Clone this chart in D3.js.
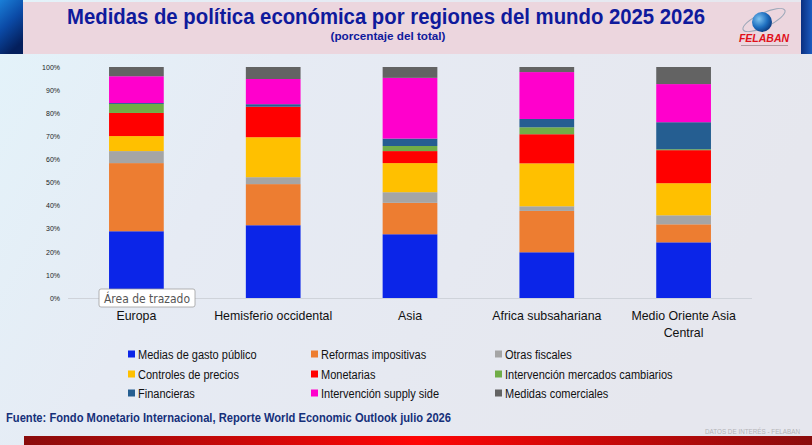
<!DOCTYPE html>
<html><head><meta charset="utf-8">
<script src="https://cdn.jsdelivr.net/npm/d3@7"></script>
<style>
html,body{margin:0;padding:0;overflow:hidden;background:#e6e9f0;}
svg{display:block;}
</style></head>
<body>
<svg id="c" width="812" height="445"></svg>
<script>
const categories = ["Europa", "Hemisferio occidental", "Asia", "Africa subsahariana", "Medio Oriente Asia Central"];
const categoryLines = [["Europa"], ["Hemisferio occidental"], ["Asia"], ["Africa subsahariana"], ["Medio Oriente Asia", "Central"]];
const seriesNames = ["Medias de gasto público", "Reformas impositivas", "Otras fiscales", "Controles de precios", "Monetarias", "Intervención mercados cambiarios", "Financieras", "Intervención supply side", "Medidas comerciales"];
const seriesColors = ["#0b25e8", "#ed7d31", "#a5a5a5", "#ffc000", "#ff0000", "#70ad47", "#255e91", "#ff00cc", "#636363"];
// values per series, in order of categories (percent of total)
const gastoPublico   = [28.9, 31.5, 27.6, 19.8, 24.1];
const reformasImp    = [29.5, 17.8, 13.6, 17.9, 7.8];
const otrasFiscales  = [5.2, 3.0, 4.6, 2.0, 3.9];
const controlPrecios = [6.5, 17.3, 12.6, 18.6, 13.9];
const monetarias     = [10.0, 13.2, 5.2, 12.6, 14.3];
const intervCambio   = [3.9, 0.0, 2.2, 3.0, 0.4];
const financieras    = [0.4, 1.1, 3.2, 3.6, 11.7];
const supplySide     = [11.6, 10.9, 26.3, 20.3, 16.5];
const comerciales    = [4.0, 5.2, 4.7, 2.2, 7.4];
const seriesValues = [gastoPublico, reformasImp, otrasFiscales, controlPrecios, monetarias, intervCambio, financieras, supplySide, comerciales];
const yTicks = [0, 10, 20, 30, 40, 50, 60, 70, 80, 90, 100];

const FONT = "'Liberation Sans',Arial,sans-serif";
function squeeze(sel, f) {
  sel.each(function() {
    const len = this.getComputedTextLength();
    d3.select(this).attr("textLength", len * f).attr("lengthAdjust", "spacingAndGlyphs");
  });
  return sel;
}

const svg = d3.select("#c");
const defs = svg.append("defs");

// background
const bg = defs.append("linearGradient").attr("id","bg").attr("x1","0").attr("y1","0").attr("x2","1").attr("y2","0.3");
bg.append("stop").attr("offset","0").attr("stop-color","#e3f3fa");
bg.append("stop").attr("offset","0.35").attr("stop-color","#e6ebf4");
bg.append("stop").attr("offset","1").attr("stop-color","#e6e7ee");
svg.append("rect").attr("width",812).attr("height",445).attr("fill","url(#bg)");

// header
svg.append("rect").attr("x",23).attr("y",2).attr("width",778).attr("height",52).attr("fill","#ecd6de");
const lb = defs.append("linearGradient").attr("id","lb").attr("x1","0").attr("y1","0").attr("x2","0.4").attr("y2","1");
lb.append("stop").attr("offset","0").attr("stop-color","#1a7fd8");
lb.append("stop").attr("offset","0.5").attr("stop-color","#0b4aa6");
lb.append("stop").attr("offset","1").attr("stop-color","#041f5c");
svg.append("rect").attr("x",0).attr("y",0).attr("width",23).attr("height",54).attr("fill","url(#lb)");
const rb = defs.append("linearGradient").attr("id","rb").attr("x1","0").attr("y1","0").attr("x2","1").attr("y2","0");
rb.append("stop").attr("offset","0").attr("stop-color","#0a2f80");
rb.append("stop").attr("offset","1").attr("stop-color","#1c5bc0");
svg.append("rect").attr("x",801).attr("y",0).attr("width",11).attr("height",54).attr("fill","url(#rb)");

svg.append("text").attr("x",386).attr("y",24).attr("text-anchor","middle")
  .attr("font-family",FONT).attr("font-weight","bold")
  .attr("font-size",22).attr("fill","#0f1a9c")
  .attr("textLength", 638).attr("lengthAdjust","spacingAndGlyphs")
  .text("Medidas de política económica por regiones del mundo 2025 2026");
svg.append("text").attr("x",388).attr("y",40).attr("text-anchor","middle")
  .attr("font-family",FONT).attr("font-weight","bold")
  .attr("font-size",11.5).attr("fill","#0f1a9c").attr("textLength",115).attr("lengthAdjust","spacingAndGlyphs")
  .text("(porcentaje del total)");

// logo
const gl = defs.append("radialGradient").attr("id","gl").attr("cx","0.35").attr("cy","0.35").attr("r","0.7");
gl.append("stop").attr("offset","0").attr("stop-color","#7fc4f0");
gl.append("stop").attr("offset","0.6").attr("stop-color","#1e6fc0");
gl.append("stop").attr("offset","1").attr("stop-color","#0b3a80");
svg.append("ellipse").attr("cx",764).attr("cy",20).attr("rx",23).attr("ry",7).attr("fill","none")
  .attr("stroke","#9aa7b8").attr("stroke-width",1).attr("transform","rotate(-25,764,20)");
svg.append("circle").attr("cx",762).attr("cy",22).attr("r",10).attr("fill","url(#gl)");
svg.append("text").attr("x",764).attr("y",42).attr("text-anchor","middle")
  .attr("font-family",FONT).attr("font-weight","bold").attr("font-style","italic")
  .attr("font-size",10.5).attr("fill","#e0101a").text("FELABAN");
svg.append("rect").attr("x",741).attr("y",45).attr("width",47).attr("height",1).attr("fill","#b09aa0");

// chart
const x = d3.scaleBand().domain(categories).range([68, 752]).paddingInner(0.6).paddingOuter(0.3);
const y = d3.scaleLinear().domain([0, 100]).range([298, 67]);

const rows = categories.map((c, i) => {
  const r = {cat: c};
  seriesNames.forEach((s, j) => r[s] = seriesValues[j][i]);
  return r;
});
const stack = d3.stack().keys(seriesNames)(rows);

svg.append("line").attr("x1",68).attr("x2",752).attr("y1",y(0)+0.5).attr("y2",y(0)+0.5)
  .attr("stroke","#cfd3da").attr("stroke-width",1);

const yAxis = d3.axisLeft(y).tickValues(yTicks).tickFormat(d => d + "%").tickSize(0).tickPadding(0);
const ya = svg.append("g").attr("transform","translate(60,0)").call(yAxis);
ya.select(".domain").remove();
ya.selectAll("text").attr("font-family",FONT).attr("font-size",7).attr("fill","#222");

svg.append("g").selectAll("g").data(stack).join("g")
  .attr("fill", (d, i) => seriesColors[i])
  .selectAll("rect").data(d => d).join("rect")
  .attr("x", d => x(d.data.cat))
  .attr("width", x.bandwidth())
  .attr("y", d => y(d[1]))
  .attr("height", d => Math.max(0, y(d[0]) - y(d[1])));

// category labels
const cl = svg.append("g");
categories.forEach((c, i) => {
  categoryLines[i].forEach((ln, k) => {
    cl.append("text").attr("x", x(c) + x.bandwidth()/2).attr("y", 320 + k * 17)
      .attr("text-anchor","middle").attr("font-family",FONT)
      .attr("font-size",13).attr("fill","#111").text(ln);
  });
});
squeeze(cl.selectAll("text"), 0.95);

// legend
const legX = [128, 311, 495], legY = [354, 374, 393];
const lg = svg.append("g");
seriesNames.forEach((s, i) => {
  const cx = legX[i % 3], cy = legY[Math.floor(i / 3)];
  lg.append("rect").attr("x", cx).attr("y", cy - 3.5).attr("width", 7).attr("height", 7).attr("fill", seriesColors[i]);
  lg.append("text").attr("x", cx + 10).attr("y", cy + 4.5).attr("font-family",FONT)
    .attr("font-size",12.5).attr("fill","#111").text(s);
});
squeeze(lg.selectAll("text"), 0.88);

// tooltip
const tt = svg.append("g");
tt.append("rect").attr("x",99).attr("y",289).attr("width",96).attr("height",18).attr("rx",2)
  .attr("fill","#fff").attr("stroke","#a0a0a0").attr("stroke-width",0.8);
tt.append("text").attr("x",104).attr("y",302.5).attr("font-family","'DejaVu Sans',Arial").attr("font-size",12)
  .attr("fill","#555").attr("textLength",86).attr("lengthAdjust","spacingAndGlyphs").text("Área de trazado");

// source
svg.append("text").attr("x",6).attr("y",422).attr("font-family",FONT)
  .attr("font-weight","bold").attr("font-size",13).attr("fill","#15307a")
  .attr("textLength",445).attr("lengthAdjust","spacingAndGlyphs")
  .text("Fuente: Fondo Monetario Internacional, Reporte World Economic Outlook julio 2026");

svg.append("text").attr("x",800).attr("y",434).attr("text-anchor","end").attr("font-family",FONT)
  .attr("font-size",7).attr("fill","#b4b4b8").attr("textLength",95).attr("lengthAdjust","spacingAndGlyphs")
  .text("DATOS DE INTERÉS - FELABAN");

const rg = defs.append("linearGradient").attr("id","rg").attr("x1","0").attr("y1","0").attr("x2","1").attr("y2","0");
rg.append("stop").attr("offset","0").attr("stop-color","#8a0c0c");
rg.append("stop").attr("offset","0.5").attr("stop-color","#ff0505");
rg.append("stop").attr("offset","1").attr("stop-color","#8a0c0c");
svg.append("rect").attr("x",24).attr("y",436).attr("width",788).attr("height",9).attr("fill","url(#rg)");
</script>
</body></html>
